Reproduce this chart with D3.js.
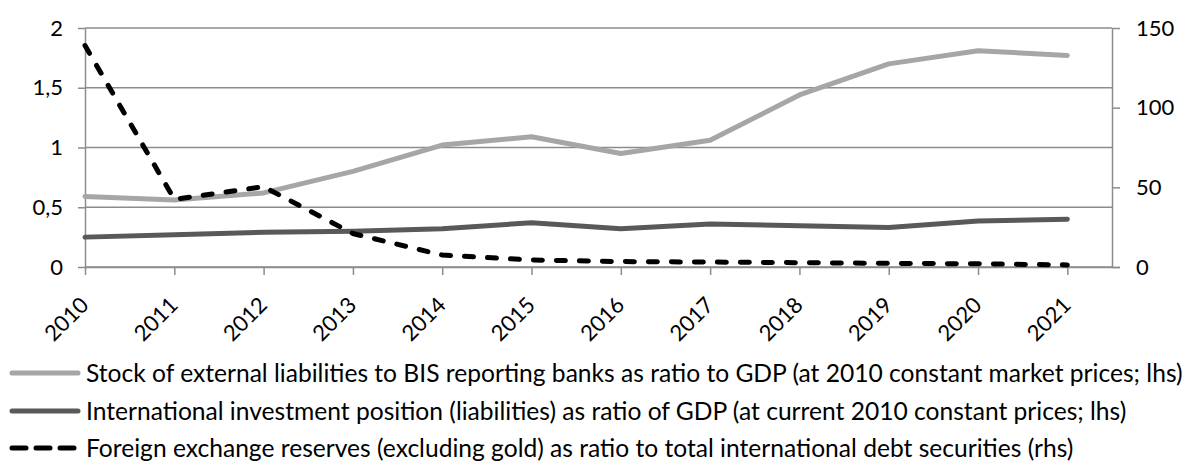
<!DOCTYPE html>
<meta charset="utf-8">
<style>
body { margin: 0; background: #fff; }
text { font-family: Lato, "Open Sans", sans-serif; fill: #000; }
.grid line { stroke: #8c8c8c; stroke-width: 1.5px; }
.axis path, .axis line { stroke: #8c8c8c; stroke-width: 1.5px; }
</style>
<svg width="1189" height="462"></svg>
<script src="https://d3js.org/d3.v7.min.js"></script>
<script>

var years = [2010, 2011, 2012, 2013, 2014, 2015, 2016, 2017, 2018, 2019, 2020, 2021];
var bisLiabilities = [0.59, 0.56, 0.62, 0.80, 1.02, 1.09, 0.95, 1.06, 1.44, 1.70, 1.81, 1.77];
var iipLiabilities = [0.25, 0.27, 0.29, 0.30, 0.32, 0.37, 0.32, 0.36, 0.345, 0.33, 0.385, 0.40];
var fxReserves = [139, 42.5, 50.4, 21, 7.5, 4.4, 3.4, 3.1, 2.7, 2.3, 2.0, 1.3];
var leftTicks = [0, 0.5, 1, 1.5, 2];
var rightTicks = [0, 50, 100, 150];
var legendLabels = [
  "Stock of external liabilities to BIS reporting banks as ratio to GDP (at 2010 constant market prices; lhs)",
  "International investment position (liabilities) as ratio of GDP (at current 2010 constant prices; lhs)",
  "Foreign exchange reserves (excluding gold) as ratio to total international debt securities (rhs)"
];

var svg = d3.select("svg");
var plotLeft = 85, plotRight = 1112, plotTop = 28, plotBottom = 267;

var x = d3.scaleLinear().domain([2010, 2021.5]).range([plotLeft, plotRight]);
var yL = d3.scaleLinear().domain([0, 2]).range([plotBottom, plotTop]);
var yR = d3.scaleLinear().domain([0, 150]).range([plotBottom, plotTop]);

// gridlines from the left axis
svg.append("g").attr("class", "grid")
  .selectAll("line").data(leftTicks).enter().append("line")
  .attr("x1", plotLeft).attr("x2", plotRight)
  .attr("y1", function(d) { return yL(d); })
  .attr("y2", function(d) { return yL(d); });

var fmt = function(d) { return String(d).replace(".", ","); };

var axL = svg.append("g").attr("class", "axis")
  .attr("transform", "translate(" + plotLeft + ",0)")
  .call(d3.axisLeft(yL).tickValues(leftTicks).tickFormat(fmt).tickSize(7).tickPadding(15).tickSizeOuter(0));

var axR = svg.append("g").attr("class", "axis")
  .attr("transform", "translate(" + plotRight + ",0)")
  .call(d3.axisRight(yR).tickValues(rightTicks).tickSize(8).tickPadding(16).tickSizeOuter(0));

var axB = svg.append("g").attr("class", "axis")
  .attr("transform", "translate(0," + plotBottom + ")")
  .call(d3.axisBottom(x).tickValues(years).tickFormat(d3.format("d")).tickSize(8).tickSizeOuter(0));
axB.select(".domain").attr("d", "M" + plotLeft + ",0.5H" + (plotRight + 8));

svg.selectAll(".axis text").style("font-size", "22px").style("font-family", "Lato, sans-serif");
axB.selectAll("text")
  .attr("text-anchor", "end")
  .attr("dy", "0.35em")
  .attr("y", 0).attr("x", 0)
  .attr("transform", "translate(-1,34) rotate(-45)");

var lineL = function(vals) {
  return d3.line().x(function(d, i) { return x(years[i]); }).y(function(d) { return yL(d); })(vals);
};

svg.append("path").attr("d", lineL(bisLiabilities))
  .attr("fill", "none").attr("stroke", "#a6a6a6").attr("stroke-width", 5).attr("stroke-linecap", "round").attr("stroke-linejoin", "round");
svg.append("path").attr("d", lineL(iipLiabilities))
  .attr("fill", "none").attr("stroke", "#595959").attr("stroke-width", 5).attr("stroke-linecap", "round").attr("stroke-linejoin", "round");
svg.append("path")
  .attr("d", d3.line().x(function(d, i) { return x(years[i]); }).y(function(d) { return yR(d); })(fxReserves))
  .attr("fill", "none").attr("stroke", "#000").attr("stroke-width", 5)
  .attr("stroke-dasharray", "9,14").attr("stroke-linecap", "round");

// legend
var legendStyles = [
  { color: "#a6a6a6", dash: null },
  { color: "#595959", dash: null },
  { color: "#000", dash: "14,10" }
];
var legendY = [373, 411, 448];
var lg = svg.append("g");
legendLabels.forEach(function(label, i) {
  lg.append("line").attr("x1", 12).attr("x2", 78)
    .attr("y1", legendY[i]).attr("y2", legendY[i])
    .attr("stroke", legendStyles[i].color).attr("stroke-width", 5)
    .attr("stroke-linecap", "round")
    .attr("stroke-dasharray", legendStyles[i].dash);
  lg.append("text").attr("class", "leg").attr("x", 86).attr("y", legendY[i]).attr("dy", "0.35em")
    .style("font-size", "21px").text(label);
});

// fit legend font to the reference width of the first row
var w = lg.select("text.leg").node().getComputedTextLength();
var fs = 21 * 1097 / w;
lg.selectAll("text.leg").style("font-size", fs + "px");

</script>
